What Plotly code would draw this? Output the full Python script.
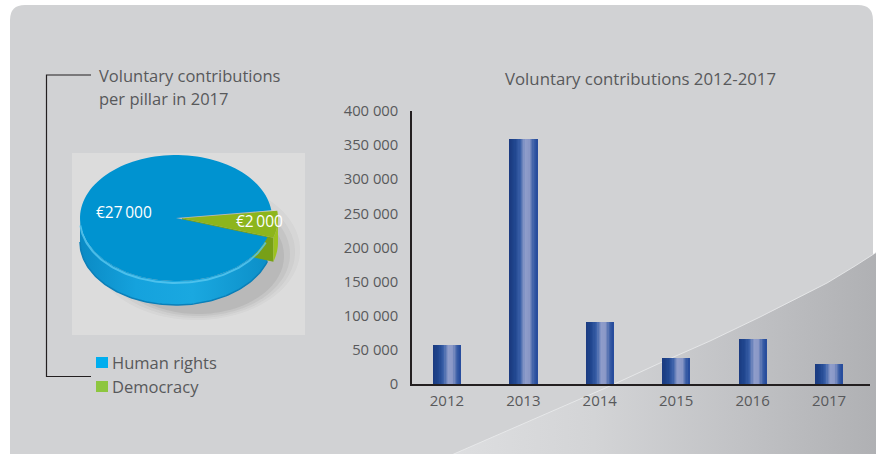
import numpy as np
import plotly.graph_objects as go

# ---------------- data ----------------
years = ["2012", "2013", "2014", "2015", "2016", "2017"]
contributions = [57000, 359000, 90500, 38000, 65700, 29000]
y_tick_vals = [0, 50000, 100000, 150000, 200000, 250000, 300000, 350000, 400000]
y_tick_text = ["0", "50 000", "100 000", "150 000", "200 000", "250 000", "300 000", "350 000", "400 000"]
bar_title = "Voluntary contributions 2012-2017"

pillars = ["Human rights", "Democracy"]
pillar_values = [27000, 2000]
pillar_labels = ["€27\u2009000", "€2\u2009000"]
pie_title_lines = ["Voluntary contributions", "per pillar in 2017"]

# ---------------- helpers ----------------
W, H = 876, 454
FONT = "Open Sans"
TXT = "#58595b"


def px(x):
    return x / W


def py(y):
    return 1 - y / H


def hex2rgb(h):
    h = h.lstrip("#")
    return [int(h[i:i + 2], 16) for i in (0, 2, 4)]


def lerp_color(stops, t):
    for (t0, c0), (t1, c1) in zip(stops[:-1], stops[1:]):
        if t0 <= t <= t1:
            a, b = hex2rgb(c0), hex2rgb(c1)
            f = (t - t0) / (t1 - t0) if t1 > t0 else 0
            r = [round(a[k] + (b[k] - a[k]) * f) for k in range(3)]
            return "rgb(%d,%d,%d)" % tuple(r)
    return stops[-1][1]


fig = go.Figure()

# ---------------- background (subplot xy covers whole page) ----------------
curve_x = [440, 500, 560, 610, 660, 710, 760, 800, 827, 855, 880]
curve_y = [460, 434, 408, 386, 363, 341, 317, 297, 283, 266, 250]
sw_x = curve_x + [880, 440]
sw_y = curve_y + [460, 460]
fig.add_trace(go.Scatter(
    x=sw_x, y=sw_y, fill="toself", mode="none",
    fillgradient=dict(type="horizontal",
                      colorscale=[[0, "#dedfe1"], [0.35, "#d3d4d6"], [0.7, "#c0c1c4"], [1, "#afb0b3"]]),
    hoverinfo="skip", showlegend=False, xaxis="x", yaxis="y"))
fig.add_trace(go.Scatter(
    x=curve_x, y=curve_y, mode="lines", line=dict(color="rgba(235,236,238,0.8)", width=1),
    hoverinfo="skip", showlegend=False, xaxis="x", yaxis="y"))

# ---------------- pie (pseudo-3D ellipse, subplot x3y3) ----------------
cx, cy, rx, ry, depth = 176, 218, 96, 63, 24
start_deg = 7.0
total = sum(pillar_values)
hr_span = 360.0 * pillar_values[0] / total
dm_span = 360.0 * pillar_values[1] / total
hr_a0, hr_a1 = start_deg, start_deg + hr_span           # Human rights (ccw)
dm_a0, dm_a1 = start_deg - dm_span, start_deg           # Democracy (cw)
mid = np.radians((dm_a0 + dm_a1) / 2)
ex, ey = 6 * np.cos(mid), -6 * np.sin(mid) * ry / rx


def arc(a0, a1, ox=0, oy=0, n=120):
    t = np.radians(np.linspace(a0, a1, n))
    return cx + ox + rx * np.cos(t), cy + oy - ry * np.sin(t)


def wedge(a0, a1, ox=0, oy=0):
    xs, ys = arc(a0, a1, ox, oy)
    return [cx + ox] + list(xs) + [cx + ox], [cy + oy] + list(ys) + [cy + oy]


def side(a0, a1, ox=0, oy=0):
    xs, ys = arc(a0, a1, ox, oy)
    return list(xs) + list(xs[::-1]), list(ys) + list(ys[::-1] + depth)


# shadow
for srx, sry, scx, scy, a in [(104, 70, 196, 250, 0.035), (98, 66, 197, 252, 0.05),
                              (92, 62, 198, 254, 0.07), (86, 58, 198, 256, 0.09)]:
    t = np.radians(np.linspace(0, 360, 120))
    fig.add_trace(go.Scatter(
        x=list(scx + srx * np.cos(t)), y=list(scy + sry * np.sin(t)), fill="toself", mode="none",
        fillcolor="rgba(70,70,70,%.3f)" % a, hoverinfo="skip", showlegend=False,
        xaxis="x3", yaxis="y3"))

# blue side
sx, sy = side(180, hr_a1)
fig.add_trace(go.Scatter(
    x=sx, y=sy, fill="toself", mode="none",
    fillgradient=dict(type="horizontal",
                      colorscale=[[0, "#0a8ac4"], [0.3, "#15a2dd"], [0.6, "#1aa8e0"], [1, "#0c8fc8"]]),
    hoverinfo="skip", showlegend=False, xaxis="x3", yaxis="y3"))
bx, by = arc(180, hr_a1)
fig.add_trace(go.Scatter(
    x=list(bx), y=list(by + depth), mode="lines", line=dict(color="#0b7fb8", width=1.5),
    hoverinfo="skip", showlegend=False, xaxis="x3", yaxis="y3"))

# green cut face
t0 = np.radians(dm_a0)
gx0, gy0 = cx + ex, cy + ey
gx1, gy1 = cx + ex + rx * np.cos(t0), cy + ey - ry * np.sin(t0)
fig.add_trace(go.Scatter(
    x=[gx0, gx1, gx1, gx0, gx0], y=[gy0, gy1, gy1 + depth, gy0 + depth, gy0],
    fill="toself", mode="none", fillcolor="#77a017", hoverinfo="skip", showlegend=False,
    xaxis="x3", yaxis="y3"))
# green side (visible lower-half part only)
gsx, gsy = side(dm_a0 + 360, 360, ex, ey)
fig.add_trace(go.Scatter(
    x=gsx, y=gsy, fill="toself", mode="none", fillcolor="#9cc21f",
    hoverinfo="skip", showlegend=False, xaxis="x3", yaxis="y3"))

# blue top
tx, ty = wedge(hr_a0, hr_a1)
fig.add_trace(go.Scatter(
    x=tx, y=ty, fill="toself", mode="none", fillcolor="#0093d0",
    hoverinfo="skip", showlegend=False, xaxis="x3", yaxis="y3"))
rx_, ry_ = arc(185, hr_a1 - 3)
fig.add_trace(go.Scatter(
    x=list(rx_), y=list(ry_ + 2), mode="lines", line=dict(color="rgba(90,200,240,0.8)", width=2),
    hoverinfo="skip", showlegend=False, xaxis="x3", yaxis="y3"))
# green top
gx, gy = wedge(dm_a0, dm_a1, ex, ey)
fig.add_trace(go.Scatter(
    x=gx, y=gy, fill="toself", mode="none", fillcolor="#8db51c",
    hoverinfo="skip", showlegend=False, xaxis="x3", yaxis="y3"))

# ---------------- bars (subplot x2y2) ----------------
bar_w = 0.366
N = 22
stops = [(0, "#1a3a7f"), (0.2, "#20468f"), (0.38, "#3a60a8"), (0.55, "#8f9dca"),
         (0.7, "#8b99c7"), (0.86, "#3a5ea6"), (1, "#244a9b")]
for i in range(N):
    t = (i + 0.5) / N
    off = -bar_w / 2 + i * bar_w / N
    w = bar_w / N * (1.6 if i < N - 1 else 1.0)
    fig.add_trace(go.Bar(
        x=years, y=contributions, offset=off, width=w,
        marker=dict(color=lerp_color(stops, t), line=dict(width=0)),
        hoverinfo="skip", showlegend=False, xaxis="x2", yaxis="y2"))

# ---------------- layout ----------------
shapes = [
    dict(type="path", xref="paper", yref="paper", layer="below",
         path="M %f %f L %f %f Q %f %f %f %f L %f %f Q %f %f %f %f L %f %f L %f %f Z" % (
             px(10), py(470), px(10), py(20), px(10), py(5), px(25), py(5),
             px(858), py(5), px(873), py(5), px(873), py(20), px(873), py(470), px(10), py(470)),
         fillcolor="#d1d2d4", line=dict(width=0)),
    dict(type="rect", xref="paper", yref="paper", layer="below",
         x0=px(72), x1=px(305), y0=py(335), y1=py(153),
         fillcolor="#dcdcdc", line=dict(width=0)),
    dict(type="path", xref="paper", yref="paper",
         path="M %f %f L %f %f L %f %f L %f %f" % (px(91), py(75), px(46.5), py(75),
                                                   px(46.5), py(376.5), px(91), py(376.5)),
         line=dict(color="#231f20", width=1.2)),
]
legend_colors = ["#00aeef", "#8dc63f"]
legend_y = [362, 386]
annotations = []
for name, col, yy in zip(pillars, legend_colors, legend_y):
    shapes.append(dict(type="rect", xref="paper", yref="paper",
                       x0=px(96), x1=px(108), y0=py(yy + 6), y1=py(yy - 5),
                       fillcolor=col, line=dict(width=0)))
    annotations.append(dict(text=name, x=px(110), y=py(yy), xref="paper", yref="paper",
                            xanchor="left", yanchor="middle", showarrow=False,
                            font=dict(family=FONT, size=16.5, color=TXT)))

for line_txt, yy in zip(pie_title_lines, [75, 98]):
    annotations.append(dict(text=line_txt, x=px(97), y=py(yy), xref="paper", yref="paper",
                            xanchor="left", yanchor="middle", showarrow=False,
                            font=dict(family=FONT, size=16.5, color=TXT)))

annotations.append(dict(text=bar_title, x=px(640), y=py(78), xref="paper", yref="paper",
                        xanchor="center", yanchor="middle", showarrow=False,
                        font=dict(family=FONT, size=16.8, color=TXT)))

for lbl, (lx, ly) in zip(pillar_labels, [(124, 212), (259, 221)]):
    annotations.append(dict(text=lbl, x=lx, y=ly, xref="x3", yref="y3",
                            xanchor="center", yanchor="middle", showarrow=False,
                            font=dict(family=FONT, size=15.5, color="white")))

fig.update_layout(
    width=W, height=H,
    margin=dict(l=0, r=0, t=0, b=0, pad=0, autoexpand=False),
    paper_bgcolor="white",
    plot_bgcolor="rgba(0,0,0,0)",
    barmode="overlay",
    bargap=0,
    shapes=shapes,
    annotations=annotations,
    showlegend=False,
    xaxis=dict(domain=[0, 1], range=[0, W], visible=False, fixedrange=True, automargin=False),
    yaxis=dict(domain=[0, 1], range=[H, 0], visible=False, fixedrange=True, automargin=False),
    xaxis2=dict(domain=[px(412), px(870)], anchor="y2", type="category",
                range=[-0.457, 5.536], showgrid=False, zeroline=False,
                showline=True, linecolor="#231f20", linewidth=1.5, ticks="",
                ticklabelstandoff=2, automargin=False,
                tickfont=dict(family=FONT, size=15, color=TXT), fixedrange=True),
    yaxis2=dict(domain=[py(384), py(111)], anchor="x2", range=[0, 400000],
                tickvals=y_tick_vals, ticktext=y_tick_text, showgrid=False, zeroline=False,
                showline=True, linecolor="#231f20", linewidth=1.5, ticks="",
                ticklabelstandoff=9, automargin=False,
                tickfont=dict(family=FONT, size=14.8, color=TXT), fixedrange=True),
    xaxis3=dict(domain=[px(72), px(305)], anchor="y3", range=[72, 305], visible=False,
                fixedrange=True, automargin=False),
    yaxis3=dict(domain=[py(335), py(153)], anchor="x3", range=[335, 153], visible=False,
                fixedrange=True, automargin=False),
)

fig.write_html("out.html", config={"displayModeBar": False},
               post_script="document.body.style.margin='0';document.body.style.overflow='hidden';")
